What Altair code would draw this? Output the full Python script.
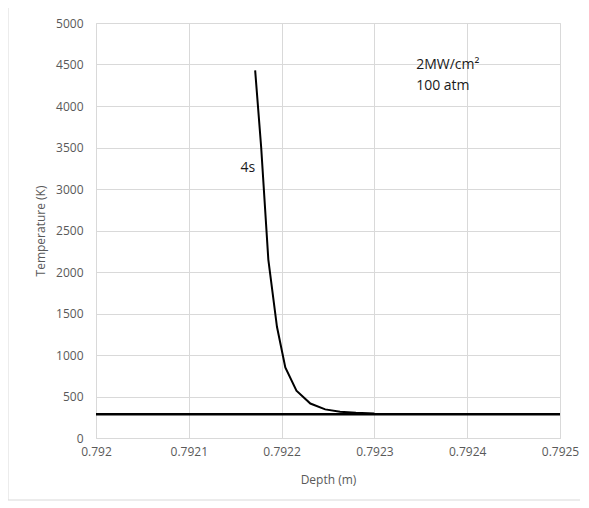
import altair as alt
import pandas as pd

# Curve "4s"
depth = [0.7921715, 0.7921780, 0.7921857, 0.7921950, 0.7922040, 0.7922160,
         0.7922310, 0.7922470, 0.7922630, 0.7922800, 0.7923000]
temperature = [4430, 3500, 2150, 1340, 850, 570, 415, 345, 315, 303, 295]

# Ambient reference line
ambient_depth = [0.792, 0.7925]
ambient_temp = [285, 285]

x_ticks = [0.792, 0.7921, 0.7922, 0.7923, 0.7924, 0.7925]
y_ticks = [0, 500, 1000, 1500, 2000, 2500, 3000, 3500, 4000, 4500, 5000]

labels_x = [0.7921556, 0.792345, 0.792345]
labels_y = [3251, 4500, 4240]
labels_text = ["4s", "2MW/cm²", "100 atm"]

W, H = 464, 415
FONT = "Open Sans"

curve_df = pd.DataFrame({"depth": depth, "temp": temperature})
amb_df = pd.DataFrame({"depth": ambient_depth, "temp": ambient_temp})
txt_df = pd.DataFrame({"depth": labels_x, "temp": labels_y, "label": labels_text})

xscale = alt.Scale(domain=[0.792, 0.7925], nice=False, zero=False)
yscale = alt.Scale(domain=[0, 5000], nice=False)

xaxis = alt.Axis(values=x_ticks, format=".4~f", title="Depth (m)", grid=True,
                 gridColor="#d9d9d9", ticks=False, domain=True, domainColor="#d9d9d9",
                 labelColor="#595959", titleColor="#595959", labelFontSize=12,
                 titleFontSize=12, labelPadding=8, labelBaseline="top",
                 titlePadding=17, labelFlush=False,
                 labelFont=FONT, titleFont=FONT, titleFontWeight="normal")
yaxis = alt.Axis(values=y_ticks, format="d", title="Temperature (K)", grid=True,
                 gridColor="#d9d9d9", ticks=False, domain=False, labelFlush=False,
                 labelColor="#595959", titleColor="#595959", labelFontSize=12,
                 titleFontSize=12, labelPadding=13, titlePadding=8,
                 labelFont=FONT, titleFont=FONT, titleFontWeight="normal")

border = alt.Chart(pd.DataFrame({"a": [0]})).mark_rect(
    fill=None, stroke="#d9d9d9", strokeWidth=1, clip=False
).encode(
    x=alt.value(-88), x2=alt.value(W + 23), y=alt.value(-18), y2=alt.value(H + 62)
)

ambient = alt.Chart(amb_df).mark_line(color="black", strokeWidth=2.5).encode(
    x=alt.X("depth:Q", scale=xscale, axis=xaxis),
    y=alt.Y("temp:Q", scale=yscale, axis=yaxis),
)

curve = alt.Chart(curve_df).mark_line(color="black", strokeWidth=2).encode(
    x=alt.X("depth:Q", scale=xscale),
    y=alt.Y("temp:Q", scale=yscale),
    order="depth:Q",
)

texts = alt.Chart(txt_df).mark_text(
    align="left", baseline="middle", fontSize=14, font=FONT, color="#1a1a1a"
).encode(
    x=alt.X("depth:Q", scale=xscale),
    y=alt.Y("temp:Q", scale=yscale),
    text="label:N",
)

chart = alt.layer(border, ambient, curve, texts).properties(
    width=W, height=H,
    autosize=alt.AutoSizeParams(type="none"),
    padding={"left": 88, "top": 15, "right": 20, "bottom": 70},
).configure_view(stroke=None).configure(background="white")

chart.save("out.html", embed_options={"renderer": "svg", "actions": False})
